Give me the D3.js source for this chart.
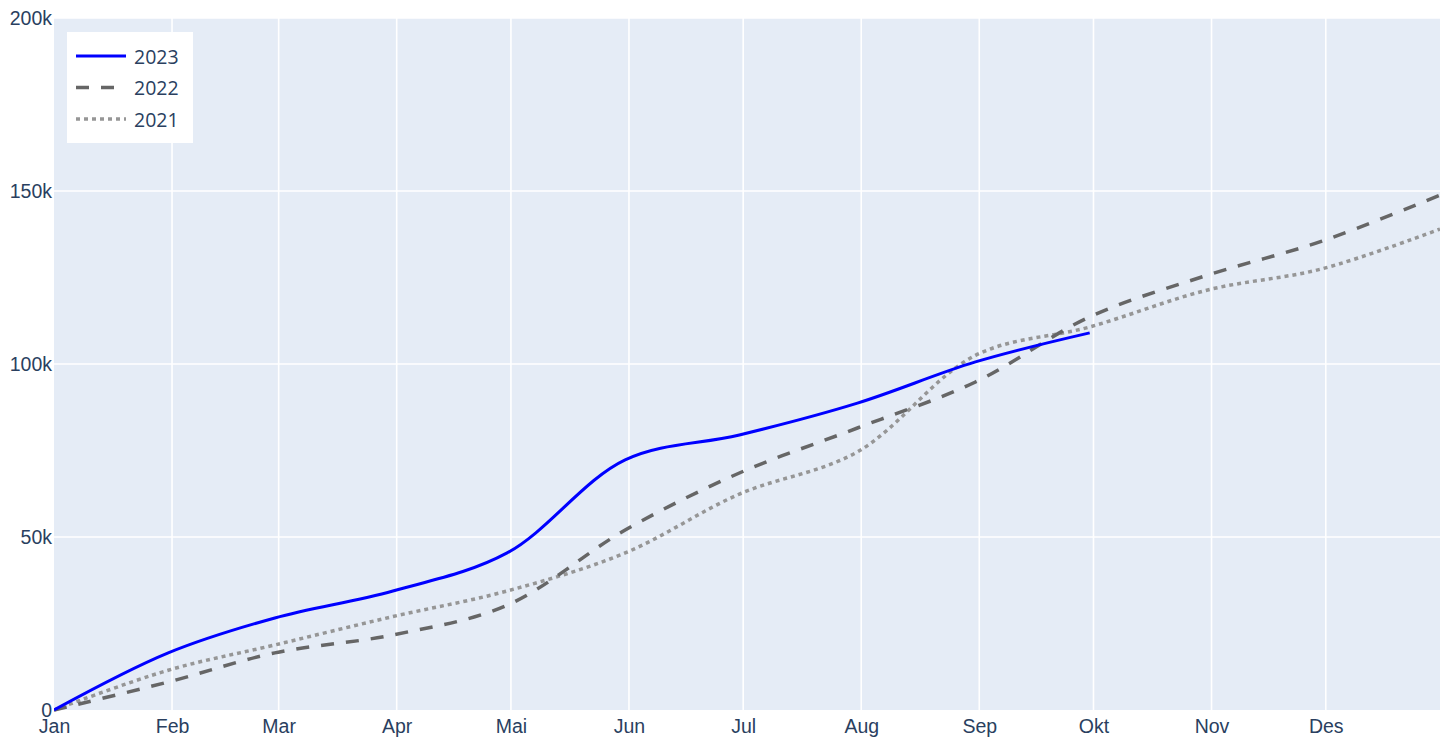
<!DOCTYPE html>
<html>
<head>
<meta charset="utf-8">
<script src="https://cdn.jsdelivr.net/npm/d3@7"></script>
<style>
  html, body { margin: 0; padding: 0; background: #fff; overflow: hidden; }
  svg { display: block; font-family: "Open Sans", "Noto Sans", sans-serif; }
  .tick text { fill: #2a3f5f; font-size: 19.5px; }
  .grid line { stroke: #fff; stroke-width: 1.6; }
</style>
</head>
<body>
<div id="chart"></div>
<script>
// month labels (norsk) and where the x ticks go
const monthLabels = ["Jan", "Feb", "Mar", "Apr", "Mai", "Jun", "Jul", "Aug", "Sep", "Okt", "Nov", "Des"];
const monthStarts = ["01-01", "02-01", "03-01", "04-01", "05-01", "06-01", "07-01", "08-01", "09-01", "10-01", "11-01", "12-01"];

// cumulative values are read at these dates (same day-of-year for every year)
const pointDates = ["01-01", "01-31", "02-28", "03-31", "04-30", "05-31", "06-30", "07-31", "08-31", "09-30", "10-31", "11-30", "12-31"];

const values2023 = [0, 16500, 26600, 34400, 45400, 72300, 79500, 88700, 100600, 109000];
const values2022 = [0, 8100, 16500, 21700, 30300, 52000, 68500, 81500, 94800, 113600, 125700, 135500, 148800];
const values2021 = [0, 11500, 18800, 27000, 34400, 45400, 62400, 74600, 102500, 110700, 121400, 127500, 139000];

const yTicks = [0, 50000, 100000, 150000, 200000];
const yTickLabels = ["0", "50k", "100k", "150k", "200k"];

const seriesNames = ["2023", "2022", "2021"];

let width = 1448, height = 737;
let margin = { top: 18, right: 8, bottom: 27, left: 54 };

let parse = d3.timeParse("%Y-%m-%d");
let toDate = s => parse("2023-" + s);

let series = [
    { name: seriesNames[0], values: values2023, color: "#0000ff", width: 3, dash: null },
    { name: seriesNames[1], values: values2022, color: "#666666", width: 3.5, dash: "13,12" },
    { name: seriesNames[2], values: values2021, color: "#969696", width: 3.5, dash: "4,4" }
];

let svg = d3.select("#chart").append("svg")
    .attr("width", width)
    .attr("height", height);

let x = d3.scaleTime()
    .domain([toDate("01-01"), toDate("12-31")])
    .range([margin.left, width - margin.right]);

let y = d3.scaleLinear()
    .domain([0, 200000])
    .range([height - margin.bottom, margin.top]);

// plot background
svg.append("rect")
    .attr("x", margin.left)
    .attr("y", margin.top)
    .attr("width", width - margin.left - margin.right)
    .attr("height", height - margin.top - margin.bottom)
    .attr("fill", "#e5ecf6");

svg.append("clipPath").attr("id", "plot-clip")
    .append("rect")
    .attr("x", margin.left)
    .attr("y", margin.top - 2)
    .attr("width", width - margin.left - margin.right)
    .attr("height", height - margin.top - margin.bottom + 4);

let tickDates = monthStarts.map(toDate);

// grid
let grid = svg.append("g").attr("class", "grid");
grid.selectAll(".vx")
    .data(tickDates.slice(1))
    .enter().append("line")
    .attr("x1", d => x(d)).attr("x2", d => x(d))
    .attr("y1", margin.top).attr("y2", height - margin.bottom);
grid.selectAll(".hy")
    .data(yTicks.slice(1))
    .enter().append("line")
    .attr("x1", margin.left).attr("x2", width - margin.right)
    .attr("y1", d => y(d)).attr("y2", d => y(d));

// axes
let xAxis = d3.axisBottom(x)
    .tickValues(tickDates)
    .tickFormat((d, i) => monthLabels[i])
    .tickSize(0)
    .tickPadding(9);
svg.append("g")
    .attr("transform", `translate(0,${height - margin.bottom})`)
    .call(xAxis)
    .call(g => g.select(".domain").remove());

let yAxis = d3.axisLeft(y)
    .tickValues(yTicks)
    .tickFormat((d, i) => yTickLabels[i])
    .tickSize(0)
    .tickPadding(2);
svg.append("g")
    .attr("transform", `translate(${margin.left},0)`)
    .call(yAxis)
    .call(g => g.select(".domain").remove());

// lines
let line = d3.line()
    .x(d => x(d.date))
    .y(d => y(d.value))
    .curve(d3.curveCatmullRom.alpha(0.5));

let lines = svg.append("g").attr("clip-path", "url(#plot-clip)");
// draw oldest first so 2023 ends on top
series.slice().reverse().forEach(s => {
    let pts = s.values.map((v, i) => ({ date: toDate(pointDates[i]), value: v }));
    lines.append("path")
        .datum(pts)
        .attr("fill", "none")
        .attr("stroke", s.color)
        .attr("stroke-width", s.width)
        .attr("stroke-dasharray", s.dash)
        .attr("stroke-linejoin", "round")
        .attr("d", line);
});

// legend
let legend = svg.append("g").attr("transform", "translate(67,32)");
legend.append("rect")
    .attr("width", 126)
    .attr("height", 111)
    .attr("fill", "#fff");

let items = legend.selectAll(".item")
    .data(series)
    .enter().append("g")
    .attr("transform", (d, i) => `translate(0,${24 + i * 31.5})`);
items.append("line")
    .attr("x1", 9).attr("x2", 59)
    .attr("y1", 0).attr("y2", 0)
    .attr("stroke", d => d.color)
    .attr("stroke-width", d => d.width)
    .attr("stroke-dasharray", d => d.dash);
items.append("text")
    .attr("x", 67)
    .attr("y", 1)
    .attr("dy", "0.35em")
    .attr("fill", "#2a3f5f")
    .style("font-size", "19.5px")
    .text(d => d.name);
</script>
</body>
</html>
